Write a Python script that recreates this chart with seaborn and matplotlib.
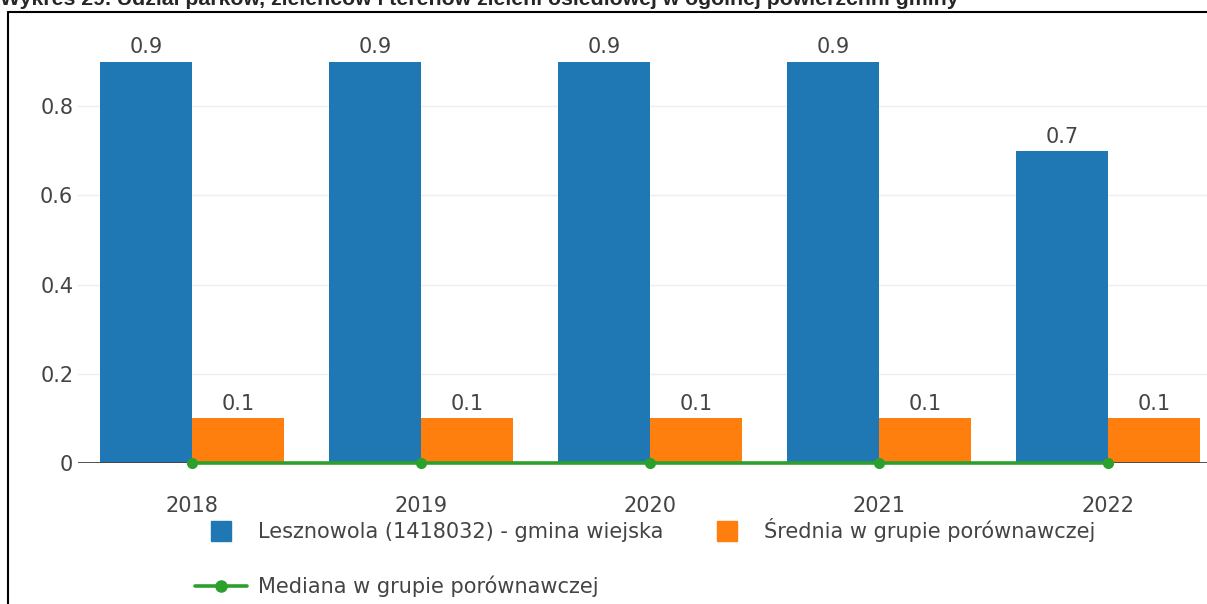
import numpy as np
import pandas as pd
import seaborn as sns
import matplotlib.pyplot as plt
from matplotlib.lines import Line2D

years = ['2018', '2019', '2020', '2021', '2022']
gmina = [0.9, 0.9, 0.9, 0.9, 0.7]
srednia = [0.1, 0.1, 0.1, 0.1, 0.1]
mediana = [0.0, 0.0, 0.0, 0.0, 0.0]

gmina_label = 'Lesznowola (1418032) - gmina wiejska'
srednia_label = 'Średnia w grupie porównawczej'
mediana_label = 'Mediana w grupie porównawczej'
title = 'Wykres 29. Udział parków, zieleńców i terenów zieleni osiedlowej w ogólnej powierzchni gminy'

y_ticks = [0, 0.2, 0.4, 0.6, 0.8]
y_tick_labels = ['0', '0.2', '0.4', '0.6', '0.8']

df = pd.DataFrame({
    'rok': years * 2,
    'wartosc': gmina + srednia,
    'seria': [gmina_label] * len(years) + [srednia_label] * len(years),
})

blue, orange, green, txt = '#1f77b4', '#ff7f0e', '#2ca02c', '#444444'
fs = 15

sns.set_theme(style='white')
plt.rcParams['font.family'] = ['DejaVu Sans']

W, H = 1207, 604
fig = plt.figure(figsize=(W / 100, H / 100), dpi=100)
ax = fig.add_axes([77.5 / W, 141 / H, 1145 / W, 0.95 * 446 / H])

ax.yaxis.grid(True, color='#eeeeee', lw=1)
ax.set_axisbelow(True)

sns.barplot(data=df, x='rok', y='wartosc', hue='seria', order=years,
            palette={gmina_label: blue, srednia_label: orange},
            saturation=1, width=0.8, legend=False, ax=ax, zorder=2,
            linewidth=0, edgecolor='none')

for c in ax.containers:
    ax.bar_label(c, fmt='%.1f', padding=3, color=txt, fontsize=fs)

ax.axhline(0, color=txt, lw=1.3, zorder=3)
sns.lineplot(x=np.arange(len(years)), y=mediana, color=green, lw=2.6,
             marker='o', markersize=8, markeredgewidth=0, ax=ax, zorder=4,
             clip_on=False)

ax.set_xlim(-0.5, len(years) - 0.5)
ax.set_ylim(0, 0.95)
ax.set_yticks(y_ticks)
ax.set_yticklabels(y_tick_labels)
ax.set_xlabel('')
ax.set_ylabel('')
ax.tick_params(axis='x', length=0, pad=24, labelsize=fs, colors=txt)
ax.tick_params(axis='y', length=0, pad=3, labelsize=fs, colors=txt)
sns.despine(ax=ax, left=True, bottom=True)

handles = [
    Line2D([], [], marker='s', ls='none', color=blue, markersize=14.4),
    Line2D([], [], color=green, lw=2.6, marker='o', markersize=8),
    Line2D([], [], marker='s', ls='none', color=orange, markersize=14.4),
]
fig.legend(handles=handles, labels=[gmina_label, mediana_label, srednia_label],
           ncol=2, loc='upper left', bbox_to_anchor=(195 / W, 1 - 518 / H),
           frameon=False, fontsize=fs, labelcolor=txt, handlelength=2.5,
           handletextpad=0.5, columnspacing=1.85, labelspacing=1.6,
           borderpad=0, borderaxespad=0)

fig.text(0, 1 - 5 / H, title, fontweight='bold', fontsize=15.3,
         family='Liberation Sans', va='baseline', ha='left')
fig.add_artist(Line2D([8 / W, 8 / W], [0, 1 - 12 / H], color='black', lw=1.5,
                      transform=fig.transFigure))
fig.add_artist(Line2D([8 / W, 1], [1 - 12 / H, 1 - 12 / H], color='black', lw=1.5,
                      transform=fig.transFigure))

fig.savefig('out.png', dpi=100)
